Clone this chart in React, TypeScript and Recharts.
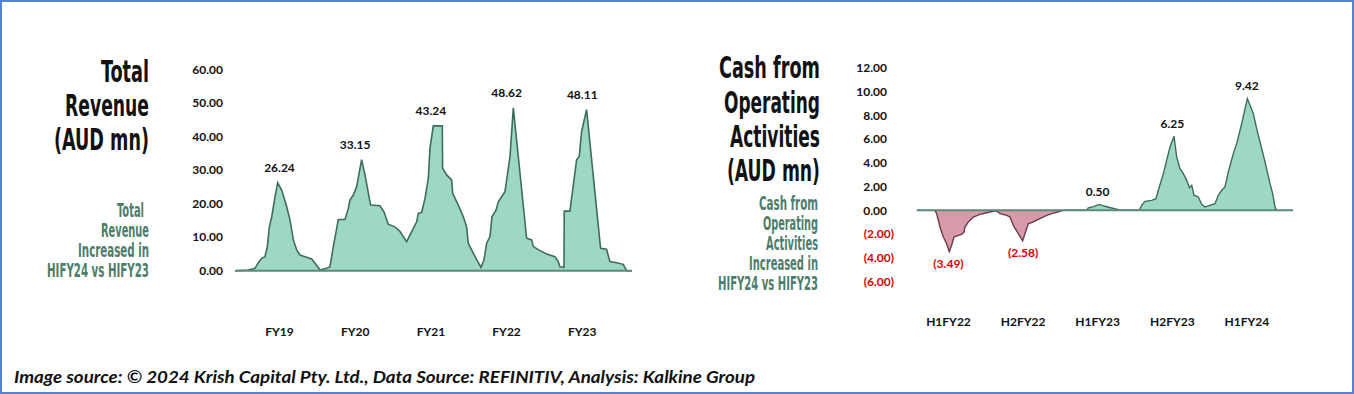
import React from 'react';
import { AreaChart, Area, XAxis, YAxis, ReferenceLine, ReferenceDot } from 'recharts';

// ---------- Total Revenue (AUD mn) ----------
const revenueCategories = ['FY19', 'FY20', 'FY21', 'FY22', 'FY23'];
const revenueTicks = [0, 10, 20, 30, 40, 50, 60];
// position along the category axis (0 = FY19 ... 4 = FY23)
const revenuePos = [
  -0.588, -0.412, -0.324, -0.28, -0.236, -0.192, -0.161, -0.134, -0.103, -0.059, -0.024, 0.029, 0.095, 0.139,
  0.183, 0.227, 0.271, 0.337, 0.425, 0.469, 0.535, 0.623, 0.667, 0.711, 0.777, 0.865, 0.909, 0.931, 0.975,
  1.019, 1.085, 1.129, 1.204, 1.327, 1.38, 1.437, 1.525, 1.592, 1.68, 1.746, 1.812, 1.834, 1.878, 1.922,
  1.966, 1.988, 2.032, 2.151, 2.155, 2.208, 2.274, 2.288, 2.362, 2.428, 2.472, 2.494, 2.538, 2.596, 2.662,
  2.701, 2.737, 2.781, 2.807, 2.86, 2.891, 2.979, 3.045, 3.089, 3.265, 3.331, 3.353, 3.441, 3.529, 3.639,
  3.683, 3.705, 3.758, 3.762, 3.837, 3.925, 3.96, 3.991, 4.057, 4.242, 4.321, 4.365, 4.453, 4.541, 4.585, 4.651,
];
const revenueVal = [
  0, 0.2, 0.7, 2.4, 3.7, 4.2, 7.2, 13.1, 16.1, 22.1, 26.24, 24.1, 19.1, 15.1,
  9.2, 6.2, 4.7, 4.2, 3.5, 2.2, 0.2, 0.7, 1.2, 7.2, 15.3, 15.3, 18.6, 21.1, 22.6,
  25.1, 33.15, 28.6, 19.6, 19.4, 17.6, 13.9, 13.1, 11.7, 8.7, 11.7, 14.6, 17.1, 17.4, 21.6,
  27.6, 36.6, 43.24, 43.24, 30.6, 28.6, 27.1, 23.1, 19.6, 16.1, 13.1, 8.2, 6.2, 3.7, 1.0,
  3.2, 8.2, 10.2, 16.1, 18.1, 20.6, 23.6, 34.1, 48.62, 9.7, 9.2, 7.2, 6.0, 5.0, 4.2,
  2.7, 1.2, 1.0, 17.8, 17.8, 33.1, 34.1, 41.5, 48.11, 6.7, 6.4, 2.7, 2.4, 1.9, 0, 0,
];
const revenueLabels = [26.24, 33.15, 43.24, 48.62, 48.11];

// ---------- Cash from Operating Activities (AUD mn) ----------
const cashCategories = ['H1FY22', 'H2FY22', 'H1FY23', 'H2FY23', 'H1FY24'];
const cashTicks = [-6, -4, -2, 0, 2, 4, 6, 8, 10, 12];
const cashPos = [
  -0.181, -0.159, -0.136, -0.114, -0.069, -0.025, 0.011, 0.042, 0.074, 0.132, 0.176, 0.208, 0.221, 0.266,
  0.333, 0.422, 0.512, 0.601, 0.646, 0.69, 0.78, 0.824, 0.869, 0.936, 0.994, 1.025, 1.07, 1.137, 1.226,
  1.316, 1.428, 1.517, 1.539, 1.852, 1.874, 1.941, 2.022, 2.098, 2.187, 2.277, 2.299, 2.558, 2.589, 2.634,
  2.723, 2.781, 2.813, 2.88, 2.925, 2.969, 3.023, 3.059, 3.103, 3.148, 3.193, 3.229, 3.26, 3.291, 3.349,
  3.394, 3.438, 3.483, 3.572, 3.617, 3.662, 3.706, 3.751, 3.818, 3.863, 3.93, 4.006, 4.086, 4.131, 4.176,
  4.243, 4.31, 4.346, 4.377, 4.4,
];
const cashVal = [
  0, -0.28, -0.84, -1.41, -2.25, -2.81, -3.49, -2.95, -2.25, -2.11, -2.03, -1.83, -1.41, -0.98,
  -0.56, -0.34, -0.2, -0.08, -0.05, -0.28, -0.42, -0.56, -1.27, -1.97, -2.58, -1.97, -1.13, -0.98, -0.7,
  -0.42, -0.2, -0.05, 0, 0, 0.2, 0.31, 0.5, 0.34, 0.2, 0.05, 0, 0, 0.42, 0.76,
  0.84, 0.98, 1.69, 3.09, 4.22, 5.34, 6.25, 4.5, 3.52, 3.09, 2.53, 1.91, 2.11, 1.27, 1.13,
  0.51, 0.28, 0.37, 0.56, 1.27, 1.69, 1.97, 3.23, 4.78, 5.63, 7.31, 9.42, 8.16, 6.89, 5.77,
  4.08, 2.25, 1.41, 0.28, 0,
];
const cashLabels = [-3.49, -2.58, 0.5, 6.25, 9.42];

const revenueData = revenuePos.map((t, i) => ({ t, v: revenueVal[i] }));
const cashData = cashPos.map((t, i) => ({
  t,
  pos: cashVal[i] >= 0 ? cashVal[i] : null,
  neg: cashVal[i] <= 0 ? cashVal[i] : null,
}));

const NUM_FONT = "Lato, 'Open Sans', sans-serif";
const TITLE_FONT = "'Liberation Sans Narrow', 'DejaVu Sans Condensed', Roboto, sans-serif";
const GREEN_FILL = '#9dd8c2';
const GREEN_LINE = '#3e6c5d';
const BASE_LINE = '#5a8a7a';
const PINK_FILL = '#d89aa8';
const PINK_LINE = '#6a3b49';
const SUB_GREEN = '#4e7d6b';
const RED = '#e00000';

const fmt = (v: number) => (v < 0 ? `(${Math.abs(v).toFixed(2)})` : v.toFixed(2));

const YTick = (props: any) => {
  const { x, y, payload } = props;
  const v = payload.value as number;
  return (
    <text x={x} y={y} dx={v < 0 ? 0 : props.padPos || 0} dy="0.35em" textAnchor="end"
      fontFamily={NUM_FONT} fontWeight={700} fontSize={12} fill={v < 0 ? RED : '#111'}>
      {fmt(v)}
    </text>
  );
};

const XTick = (props: any) => {
  const { x, y, payload, labels } = props;
  return (
    <text x={x} y={y} dy="0.71em" textAnchor="middle" fontFamily={NUM_FONT} fontWeight={700}
      fontSize={12} fill="#111">
      {labels[payload.value]}
    </text>
  );
};

const labelStyle = (value: number, position: 'top' | 'bottom', offset: number) => ({
  value: fmt(value),
  position,
  offset,
  fill: value < 0 ? RED : '#111',
  fontFamily: NUM_FONT,
  fontWeight: 700,
  fontSize: 12,
});

type TL = { text: string; y: number; w: number };
const leftTitle: TL[] = [
  { text: 'Total', y: 81.5, w: 48 },
  { text: 'Revenue', y: 115.5, w: 84 },
  { text: '(AUD mn)', y: 150, w: 95 },
];
const leftSub: TL[] = [
  { text: 'Total', y: 216.5, w: 27 },
  { text: 'Revenue', y: 236.5, w: 48 },
  { text: 'Increased in', y: 256.5, w: 71 },
  { text: 'HIFY24 vs HIFY23', y: 276.5, w: 102 },
];
const rightTitle: TL[] = [
  { text: 'Cash from', y: 78, w: 101 },
  { text: 'Operating', y: 112.5, w: 96 },
  { text: 'Activities', y: 146.5, w: 90 },
  { text: '(AUD mn)', y: 181, w: 93 },
];
const rightSub: TL[] = [
  { text: 'Cash from', y: 210, w: 59 },
  { text: 'Operating', y: 230, w: 55 },
  { text: 'Activities', y: 250, w: 52 },
  { text: 'Increased in', y: 270, w: 69 },
  { text: 'HIFY24 vs HIFY23', y: 290, w: 100 },
];

export default function App() {
  return (
    <div style={{ position: 'absolute', left: 0, top: 0, width: 1354, height: 394, background: '#fff', overflow: 'hidden' }}>
      {/* Left chart */}
      <div style={{ position: 'absolute', left: 150, top: 60 }}>
        <AreaChart width={500} height={300} data={revenueData} margin={{ top: 9.8, right: 18, bottom: 29.3, left: 25 }}>
          <XAxis type="number" dataKey="t" domain={[-0.588, 4.657]} ticks={[0, 1, 2, 3, 4]} allowDataOverflow
            height={60} tickSize={0} tickMargin={57} tickLine={false}
            axisLine={{ stroke: BASE_LINE, strokeWidth: 2 }}
            tick={<XTick labels={revenueCategories} />} interval={0} />
          <YAxis type="number" domain={[0, 60]} ticks={revenueTicks} width={60} axisLine={false} tickLine={false}
            tickSize={0} tickMargin={12} tick={<YTick padPos={0} />} interval={0} />
          <Area type="linear" dataKey="v" baseValue={0} stroke={GREEN_LINE} strokeWidth={1.6} fill={GREEN_FILL}
            fillOpacity={1} dot={false} activeDot={false} isAnimationActive={false} />
          {revenueLabels.map((v, i) => (
            <ReferenceDot key={i} x={i} y={v} r={0} fill="none" stroke="none" label={labelStyle(v, 'top', 10.5)} />
          ))}
        </AreaChart>
      </div>

      {/* Right chart */}
      <div style={{ position: 'absolute', left: 820, top: 58 }}>
        <AreaChart width={490} height={290} data={cashData} margin={{ top: 10, right: 17, bottom: 36.5, left: 36.7 }}>
          <XAxis type="number" dataKey="t" domain={[-0.426, 4.618]} ticks={[0, 1, 2, 3, 4]} allowDataOverflow
            height={30} tickSize={0} tickMargin={36} tickLine={false} axisLine={false}
            tick={<XTick labels={cashCategories} />} interval={0} />
          <YAxis type="number" domain={[-6, 12]} ticks={cashTicks} width={60} axisLine={false} tickLine={false}
            tickSize={0} tickMargin={22.7} tick={<YTick padPos={-7} />} interval={0} />
          <Area type="linear" dataKey="neg" baseValue={0} stroke={PINK_LINE} strokeWidth={1.4} fill={PINK_FILL}
            fillOpacity={1} dot={false} activeDot={false} isAnimationActive={false} />
          <Area type="linear" dataKey="pos" baseValue={0} stroke={GREEN_LINE} strokeWidth={1.4} fill={GREEN_FILL}
            fillOpacity={1} dot={false} activeDot={false} isAnimationActive={false} />
          <ReferenceLine y={0} stroke={BASE_LINE} strokeWidth={2} />
          {cashLabels.map((v, i) => (
            <ReferenceDot key={i} x={i} y={v} r={0} fill="none" stroke="none"
              label={labelStyle(v, v < 0 ? 'bottom' : 'top', v < 0 ? 8 : 8.7)} />
          ))}
        </AreaChart>
      </div>

      {/* Titles and footer */}
      <svg width={1354} height={394} style={{ position: 'absolute', left: 0, top: 0, pointerEvents: 'none' }}>
        {leftTitle.map((l, i) => (
          <text key={'lt' + i} x={149} y={l.y} textAnchor="end" textLength={l.w} lengthAdjust="spacingAndGlyphs"
            fontFamily={TITLE_FONT} fontWeight={700} fontSize={31} fill="#111">{l.text}</text>
        ))}
        {leftSub.map((l, i) => (
          <text key={'ls' + i} x={i === 0 ? 144 : 149} y={l.y} textAnchor="end" textLength={l.w} lengthAdjust="spacingAndGlyphs"
            fontFamily={TITLE_FONT} fontWeight={700} fontSize={19} fill={SUB_GREEN}>{l.text}</text>
        ))}
        {rightTitle.map((l, i) => (
          <text key={'rt' + i} x={820} y={l.y} textAnchor="end" textLength={l.w} lengthAdjust="spacingAndGlyphs"
            fontFamily={TITLE_FONT} fontWeight={700} fontSize={31} fill="#111">{l.text}</text>
        ))}
        {rightSub.map((l, i) => (
          <text key={'rs' + i} x={818} y={l.y} textAnchor="end" textLength={l.w} lengthAdjust="spacingAndGlyphs"
            fontFamily={TITLE_FONT} fontWeight={700} fontSize={19} fill={SUB_GREEN}>{l.text}</text>
        ))}
        <text x={14} y={383} textLength={741} lengthAdjust="spacingAndGlyphs" fontFamily={NUM_FONT}
          fontWeight={700} fontStyle="italic" fontSize={17} fill="#111">
          Image source: © 2024 Krish Capital Pty. Ltd., Data Source: REFINITIV, Analysis: Kalkine Group
        </text>
      </svg>

      {/* frame border */}
      <div style={{ position: 'absolute', left: 0, top: 0, width: 1354, height: 394, boxSizing: 'border-box',
        border: '2px solid #5582d3', pointerEvents: 'none' }} />
    </div>
  );
}
